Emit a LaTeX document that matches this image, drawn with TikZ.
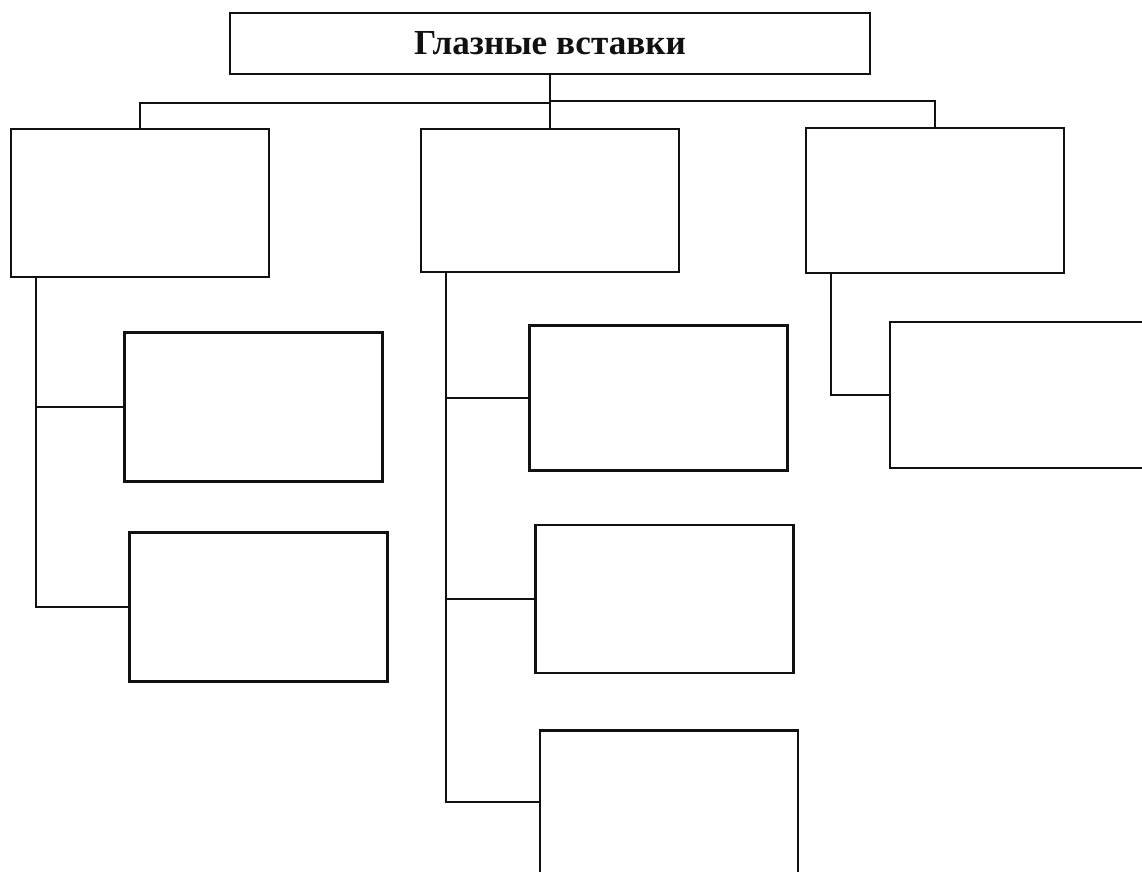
\documentclass[tikz,border=0pt]{standalone}
\usepackage{fontspec}
\setmainfont{Liberation Serif}
\usetikzlibrary{positioning,calc}
\definecolor{Ink}{HTML}{111111}

\tikzset{
  blankbox/.style={draw=Ink,line width=1.5pt,inner sep=0pt,minimum width=6.45cm},
  titlebox/.style={draw=Ink,line width=1.5pt,inner sep=0pt,minimum width=16cm,minimum height=1.525cm,font=\fontsize{25}{30}\selectfont\bfseries,text=Ink},
  link/.style={draw=Ink,line width=1.5pt}
}

\begin{document}
\begin{tikzpicture}[x=0.025cm,y=-0.025cm]
\useasboundingbox (0,0) rectangle (1142,871);
\clip (0,0) rectangle (1142,871);
\node[titlebox] (glaz) at (550,43.5) {Глазные вставки};
\node[blankbox,minimum height=3.7cm] (grpA) at (140,203) {};
\node[blankbox,minimum height=3.575cm] (grpB) at (550,200.5) {};
\node[blankbox,minimum height=3.625cm] (grpC) at (935,200.5) {};
\node[blankbox,minimum height=3.725cm] (subA1) at (253.5,407) {};
\node[blankbox,minimum height=3.725cm] (subA2) at (258.5,607) {};
\node[blankbox,minimum height=3.625cm] (subB1) at (658.5,398) {};
\node[blankbox,minimum height=3.7cm] (subB2) at (664.5,599) {};
\node[blankbox,minimum height=3.575cm] (subB3) at (669,802) {};
\node[blankbox,minimum height=3.65cm] (subC1) at (1019,395) {};
\draw[link] (glaz.south) -- (grpB.north);
\draw[link] ($(glaz.south)+(0,27.5)$) -| (grpA.north);
\draw[link] ($(glaz.south)+(0,26)$) -| (grpC.north);
\draw[link] ([xshift=0.65cm]grpA.south west) |- (subA1.west);
\draw[link] ([xshift=0.65cm]grpA.south west) |- (subA2.west);
\draw[link] ([xshift=0.65cm]grpB.south west) |- (subB1.west);
\draw[link] ([xshift=0.65cm]grpB.south west) |- (subB2.west);
\draw[link] ([xshift=0.65cm]grpB.south west) |- (subB3.west);
\draw[link] ([xshift=0.65cm]grpC.south west) |- (subC1.west);
\end{tikzpicture}
\end{document}
